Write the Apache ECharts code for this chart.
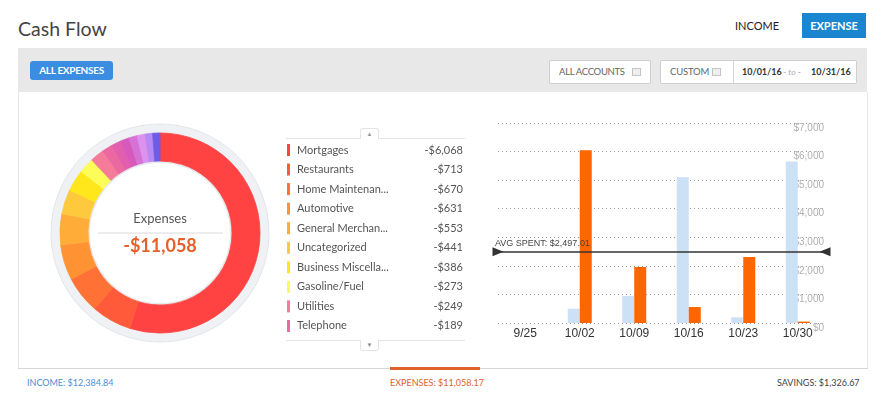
<!DOCTYPE html>
<html><head><meta charset="utf-8">
<script src="https://cdn.jsdelivr.net/npm/echarts@6.0.0/dist/echarts.min.js"></script>
<style>
body{margin:0;width:881px;height:394px;position:relative;overflow:hidden;background:#fff;font-family:Lato,'Open Sans',sans-serif;}
.a{position:absolute;white-space:nowrap;}
#chart{position:absolute;left:0;top:0;width:881px;height:394px;z-index:5;}
.sq{position:absolute;width:7px;height:6px;border:1px solid #c4c4c4;background:#efefef;}
</style></head>
<body>
<div class="a" style="left:18px;top:17px;font-size:19.5px;color:#444;">Cash Flow</div>
<div class="a" style="left:735px;top:19px;font-size:11px;color:#222;">INCOME</div>
<div class="a" style="left:802px;top:13px;width:64px;height:25px;line-height:25px;background:#1a86cf;color:#fff;font-size:11px;font-weight:bold;text-align:center;">EXPENSE</div>

<div class="a" style="left:18px;top:48px;width:849px;height:44px;background:#e8e8e8;"></div>
<div class="a" style="left:30px;top:61px;width:83px;height:19px;line-height:19px;background:#3a8de0;border-radius:3px;color:#fff;font-size:10px;font-weight:bold;text-align:center;letter-spacing:-0.3px;">ALL EXPENSES</div>
<div class="a" style="left:549px;top:60px;width:100px;height:22px;background:#fff;border:1px solid #cfcfcf;border-radius:2px;"></div>
<div class="a" style="left:559px;top:60px;height:24px;line-height:24px;font-size:9.5px;color:#666;letter-spacing:-0.3px;">ALL ACCOUNTS</div>
<div class="sq" style="left:632px;top:68px;"></div>
<div class="a" style="left:660px;top:60px;width:195px;height:22px;background:#fff;border:1px solid #cfcfcf;border-radius:2px;"></div>
<div class="a" style="left:670px;top:60px;height:24px;line-height:24px;font-size:9.5px;color:#666;letter-spacing:-0.2px;">CUSTOM</div>
<div class="sq" style="left:712px;top:68px;"></div>
<div class="a" style="left:733px;top:61px;width:1px;height:22px;background:#d6d6d6;"></div>
<div class="a" style="left:742px;top:60px;height:24px;line-height:24px;font-size:9px;color:#333;font-weight:bold;">10/01/16</div>
<div class="a" style="left:783px;top:60px;height:24px;line-height:24px;font-size:8.5px;color:#aaa;">- <i>to</i> -</div>
<div class="a" style="left:811px;top:60px;height:24px;line-height:24px;font-size:9px;color:#333;font-weight:bold;">10/31/16</div>

<div class="a" style="left:18px;top:92px;width:848px;height:277px;border-left:1px solid #e6e6e6;border-right:1px solid #e6e6e6;"></div>
<div class="a" style="left:18px;top:368px;width:850px;height:1px;background:#d6d6d6;"></div>
<div class="a" style="left:390px;top:367px;width:90px;height:3px;background:#e0622a;"></div>
<div class="a" style="left:27px;top:377px;font-size:9px;color:#4a8fd6;">INCOME: $12,384.84</div>
<div class="a" style="left:390px;top:377px;font-size:9px;color:#e0622a;">EXPENSES: $11,058.17</div>
<div class="a" style="left:777px;top:377px;font-size:9px;color:#444;">SAVINGS: $1,326.67</div>

<div class="a" style="left:286px;top:138px;width:179px;height:201px;border-top:1px solid #e4e4e4;border-bottom:1px solid #e4e4e4;"></div>
<div class="a" style="left:360px;top:128px;width:17px;height:10px;border:1px solid #e4e4e4;border-bottom:none;border-radius:3px 3px 0 0;background:#fff;font-size:6px;color:#999;text-align:center;line-height:10px;">&#9650;</div>
<div class="a" style="left:360px;top:340px;width:17px;height:10px;border:1px solid #e4e4e4;border-top:none;border-radius:0 0 3px 3px;background:#fff;font-size:6px;color:#888;text-align:center;line-height:10px;">&#9660;</div>

<div id="chart"></div>
<script>
// ---- data ----
const categories = ['Mortgages','Restaurants','Home Maintenan...','Automotive','General Merchan...','Uncategorized','Business Miscella...','Gasoline/Fuel','Utilities','Telephone'];
const amounts = [6068, 713, 670, 631, 553, 441, 386, 273, 249, 189];
// remaining categories (scrolled out of the list)
const hiddenCategories = ['Other A','Other B','Other C','Other D','Other E','Other F'];
const hiddenAmounts = [170, 160, 150, 140, 135, 130];
const sliceColors = ['#ff4343','#ff5b3b','#ff7135','#ff9233','#ffac38','#ffc93d','#ffe71c','#fdfd5a','#f57c98','#ec68a0',
                     '#e25fae','#d859bc','#d672d6','#dc92ee','#b889f2','#6e5ce6'];
const totalLabel = '-$11,058';
const weeks = ['9/25','10/02','10/09','10/16','10/23','10/30'];
const weeklyIncome = [0, 500, 950, 5100, 200, 5650];
const weeklyExpense = [0, 6050, 1960, 560, 2310, 50];
const avgSpent = 2497.01;
const yMax = 7000, yStep = 1000;

const allNames = categories.concat(hiddenCategories);
const allValues = amounts.concat(hiddenAmounts);
const pieData = allNames.map((n, i) => ({name: n, value: allValues[i],
  itemStyle: {color: sliceColors[i], borderColor: sliceColors[i], borderWidth: 0.8}}));
const fmtMoney = v => '$' + Number(v).toLocaleString('en-US');

const chart = echarts.init(document.getElementById('chart'), null, {renderer: 'canvas'});
chart.setOption({
  animation: false,
  backgroundColor: 'transparent',
  legend: {
    data: categories,
    orient: 'vertical',
    left: 287, top: 144, padding: 0,
    icon: 'rect', itemWidth: 3, itemHeight: 12, itemGap: 7.55,
    itemStyle: {borderWidth: 0},
    selectedMode: false,
    formatter: name => '{n|' + name + '}{v|-' + fmtMoney(amounts[categories.indexOf(name)]) + '}',
    textStyle: {
      rich: {
        n: {width: 120, fontSize: 11, color: '#555', fontFamily: 'Lato', padding: [0,0,0,2]},
        v: {width: 46, fontSize: 11, color: '#555', fontFamily: 'Lato', align: 'right'}
      }
    }
  },
  grid: {left: 498, right: 56, top: 123, bottom: 71},
  xAxis: {
    type: 'category', data: weeks,
    axisLine: {show: false}, axisTick: {show: false},
    axisLabel: {color: '#333', fontSize: 12, fontFamily: 'Liberation Sans, Arial', margin: 5}
  },
  yAxis: {
    type: 'value', position: 'right', min: 0, max: yMax, interval: yStep,
    axisLine: {show: false}, axisTick: {show: false},
    splitLine: {lineStyle: {type: [1, 3], color: '#9a9a9a', width: 1}},
    axisLabel: {inside: true, margin: 1, color: '#b0b0b0', fontSize: 10, fontFamily: 'Liberation Sans, Arial',
                verticalAlign: 'top', formatter: v => fmtMoney(v)}
  },
  graphic: [
    {type: 'text', x: 160, y: 219, style: {text: 'Expenses', align: 'center', verticalAlign: 'middle', fontSize: 13, fontFamily: 'Lato', fill: '#555'}},
    {type: 'line', shape: {x1: 98, y1: 233, x2: 223, y2: 233}, style: {stroke: '#dadada', lineWidth: 1}},
    {type: 'text', x: 160, y: 246, style: {text: totalLabel, align: 'center', verticalAlign: 'middle', fontSize: 18, fontWeight: 'bold', fontFamily: 'Lato', fill: '#e5612b'}}
  ],
  series: [
    {type: 'pie', radius: [100, 109], center: [160, 233], silent: true, label: {show: false}, emphasis: {disabled: true},
     data: [{value: 1, name: '', itemStyle: {color: '#eff1f4', borderColor: '#e2e5ea', borderWidth: 1}}]},
    {type: 'pie', radius: [70, 73], center: [160, 233], silent: true, label: {show: false}, emphasis: {disabled: true},
     data: [{value: 1, name: '', itemStyle: {color: '#e7eaef', borderWidth: 0}}]},
    {type: 'pie', name: 'Expenses', radius: [72, 100], center: [160, 233], startAngle: 90, clockwise: true, padAngle: 0,
     label: {show: false}, labelLine: {show: false}, emphasis: {disabled: true},
     data: pieData},
    {type: 'bar', name: 'Income', data: weeklyIncome, barWidth: 12, barGap: '0%', itemStyle: {color: '#cde1f6'}},
    {type: 'bar', name: 'Expense', data: weeklyExpense, barWidth: 12, itemStyle: {color: '#ff6600'},
     markLine: {
       silent: true,
       symbol: ['triangle', 'triangle'], symbolSize: [9, 11], symbolRotate: [-90, 90],
       lineStyle: {color: '#333', width: 1.5, type: 'solid'},
       label: {show: true, position: 'insideStartTop', formatter: 'AVG SPENT: ' + fmtMoney(avgSpent),
               color: '#444', fontSize: 9, fontFamily: 'Liberation Sans, Arial', distance: [-3, 4]},
       data: [{yAxis: avgSpent}]
     }}
  ]
});
</script>
</body></html>
